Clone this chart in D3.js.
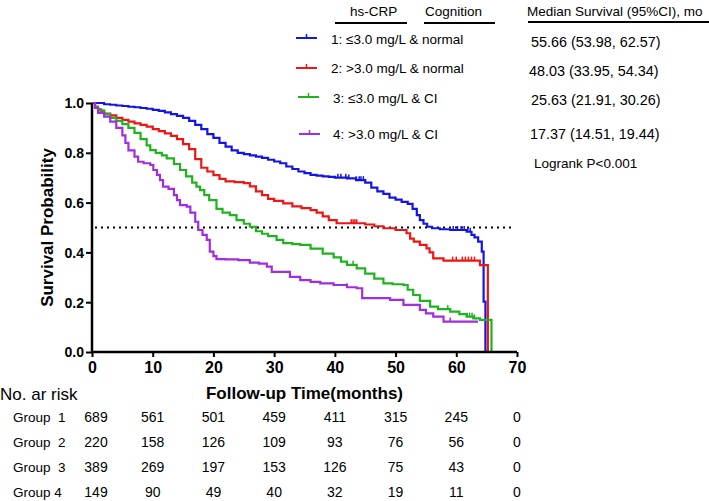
<!DOCTYPE html>
<html><head><meta charset="utf-8">
<script src="https://cdn.jsdelivr.net/npm/d3@7"></script>
<style>
html,body{margin:0;padding:0;background:#fff;}
svg{display:block;font-family:"Liberation Sans",Arial,sans-serif;}
</style></head>
<body><svg id="c" width="709" height="501"></svg>
<script>
// ---------- data ----------
const groupNames = ["1: ≤3.0 mg/L & normal","2: >3.0 mg/L & normal","3: ≤3.0 mg/L & CI","4: >3.0 mg/L & CI"];
const groupColors = ["#1414e6","#ee1515","#1eb41e","#a02ee0"];
const medianText = ["55.66 (53.98, 62.57)","48.03 (33.95, 54.34)","25.63 (21.91, 30.26)","17.37 (14.51, 19.44)"];
const logrankText = "Logrank P<0.001";
const xTicks = [0,10,20,30,40,50,60,70];
const yTicks = [0,0.2,0.4,0.6,0.8,1.0];
const riskGroups = ["Group  1","Group  2","Group  3","Group 4"];
const risk1 = [689,561,501,459,411,315,245,0];
const risk2 = [220,158,126,109,93,76,56,0];
const risk3 = [389,269,197,153,126,75,43,0];
const risk4 = [149,90,49,40,32,19,11,0];

const surv1 = [[0,1],[1,1],[2,0.995],[3,0.993],[4,0.99],[5,0.988],[6,0.985],[7,0.983],[8,0.98],[9,0.977],[10,0.972],[11,0.968],[12,0.962],[13,0.955],[14,0.948],[15,0.94],[16,0.928],[17,0.912],[18,0.895],[19,0.875],[20,0.86],[21,0.84],[22,0.825],[23,0.81],[24,0.8],[25,0.795],[26,0.79],[27,0.785],[28,0.78],[29,0.772],[30,0.765],[31,0.758],[32,0.745],[33,0.735],[34,0.725],[35,0.718],[36,0.711],[37,0.708],[38,0.705],[39,0.703],[40,0.7],[42,0.697],[43.5,0.69],[45,0.68],[46,0.66],[47,0.645],[48,0.635],[49,0.62],[50,0.612],[51,0.603],[52,0.595],[52.8,0.575],[53.5,0.55],[54,0.53],[54.6,0.515],[55.2,0.503],[56,0.497],[57.3,0.493],[59,0.49],[61.7,0.483],[62.5,0.47],[63,0.46],[63.6,0.443],[64.2,0.403],[64.5,0.202],[64.8,0]];
const surv2 = [[0,1],[0.5,0.985],[1,0.975],[1.5,0.965],[2,0.957],[3,0.95],[4,0.94],[5,0.932],[6,0.925],[7,0.918],[8,0.912],[9,0.905],[10,0.895],[11,0.887],[12,0.878],[13,0.868],[14,0.855],[15,0.835],[16,0.815],[17,0.775],[18,0.74],[19,0.725],[20,0.71],[21,0.695],[22,0.685],[23.5,0.682],[25,0.678],[26,0.665],[27,0.645],[28,0.63],[29,0.615],[30,0.607],[31.5,0.597],[33,0.585],[34.5,0.578],[36,0.57],[37,0.56],[38,0.545],[39,0.53],[40.3,0.517],[44,0.517],[45,0.512],[46.5,0.505],[48,0.497],[50,0.49],[51.8,0.477],[52.4,0.455],[53,0.443],[54,0.43],[55.1,0.416],[55.6,0.4],[56.2,0.376],[57.9,0.367],[63.9,0.349],[65.2,0]];
const surv3 = [[0,1],[0.5,0.985],[1,0.97],[2,0.955],[3,0.94],[4,0.928],[5,0.915],[6,0.9],[7,0.88],[8,0.855],[9,0.83],[9.6,0.811],[10.5,0.8],[11.5,0.79],[12.3,0.778],[13.5,0.755],[14.5,0.731],[15.5,0.705],[16.5,0.68],[17.2,0.664],[17.8,0.65],[18.5,0.63],[19.3,0.61],[20.5,0.575],[21.5,0.56],[22.7,0.55],[23.8,0.53],[25,0.515],[26,0.503],[27,0.485],[28,0.475],[29,0.465],[30.4,0.45],[31.5,0.437],[33,0.433],[34.3,0.43],[36,0.415],[38,0.395],[39.8,0.38],[41,0.363],[42,0.35],[43.6,0.336],[45,0.315],[46.5,0.295],[48,0.276],[49.5,0.272],[51.3,0.269],[52,0.25],[52.9,0.229],[54,0.205],[55.7,0.182],[57,0.172],[59,0.162],[60.5,0.152],[61.7,0.142],[62.8,0.135],[63.9,0.129],[65.8,0]];
const surv4 = [[0,1],[0.5,0.98],[1,0.96],[2,0.945],[3,0.925],[4,0.9],[5,0.87],[5.5,0.84],[6,0.81],[7,0.785],[7.6,0.764],[8.5,0.758],[9.6,0.751],[10.1,0.731],[10.7,0.711],[11.2,0.69],[11.7,0.664],[12.6,0.655],[13.5,0.63],[14,0.61],[14.5,0.59],[15.6,0.584],[16.2,0.56],[17,0.523],[17.5,0.49],[18.2,0.47],[18.9,0.45],[19.4,0.403],[20,0.385],[20.5,0.373],[22,0.372],[24.1,0.369],[26,0.359],[27.5,0.355],[28.8,0.343],[29.6,0.322],[31.5,0.322],[32.6,0.302],[34.3,0.289],[36,0.282],[37.6,0.276],[39.8,0.269],[42,0.26],[43.6,0.256],[44.5,0.216],[49.1,0.209],[51.3,0.189],[54,0.169],[55,0.155],[56.2,0.142],[57.9,0.122],[63.6,0.122]];
const cens1 = [40.5,41,41.8,42.3,43.5,44,44.3,44.7,59.5,60.2,60.8,61.3,61.9,62.3];
const cens2 = [42.7,43,43.3,43.6,59.4,60,61,61.5,62,62.5,63];
const cens3 = [43,58.6,61.8,62.2,62.6,63];
const cens4 = [42,59];

// ---------- layout ----------
const svg = d3.select("#c");
const x = d3.scaleLinear().domain([0,70]).range([92,517]);
const y = d3.scaleLinear().domain([0,1]).range([352,103]);
const bold = "bold";

// reference line at 0.5
svg.append("line").attr("x1",x(0)+3).attr("x2",x(70)-2).attr("y1",y(0.5)).attr("y2",y(0.5))
  .attr("stroke","#000").attr("stroke-width",2).attr("stroke-dasharray","2,4");

const survs = [surv1,surv2,surv3,surv4];
const cens = [cens1,cens2,cens3,cens4];
const line = d3.line().x(d=>x(d[0])).y(d=>y(d[1])).curve(d3.curveStepAfter);
function survAt(s,t){let v=1;for(const p of s){if(p[0]<=t)v=p[1];}return v;}
survs.forEach((s,i)=>{
  svg.append("path").attr("d",line(s)).attr("fill","none").attr("stroke",groupColors[i]).attr("stroke-width",2.2);
  svg.selectAll(null).data(cens[i]).enter().append("line")
    .attr("x1",t=>x(t)).attr("x2",t=>x(t)).attr("y1",t=>y(survAt(s,t))).attr("y2",t=>y(survAt(s,t))-4)
    .attr("stroke",groupColors[i]).attr("stroke-width",1.5);
});

// axes
const yAxis = svg.append("g").attr("transform",`translate(${x(0)},0)`)
  .call(d3.axisLeft(y).tickValues(yTicks).tickFormat(d3.format(".1f")).tickSize(6).tickSizeOuter(0));
const xAxis = svg.append("g").attr("transform",`translate(0,${y(0)})`)
  .call(d3.axisBottom(x).tickValues(xTicks).tickSize(5).tickSizeOuter(0));
[yAxis,xAxis].forEach(g=>{
  g.select(".domain").attr("stroke","#000").attr("stroke-width",2.5);
  g.selectAll(".tick line").attr("stroke","#000").attr("stroke-width",2);
});
yAxis.selectAll("text").attr("font-size",14).attr("font-weight",bold).attr("fill","#000").attr("x",-8).attr("dy","0.35em");
xAxis.selectAll("text").attr("font-size",16).attr("font-weight",bold).attr("fill","#000").attr("y",10).attr("dy","0.71em");
yAxis.select(".domain").attr("d",`M0,${y(1)}V${y(0)+1}`);
xAxis.select(".domain").attr("d",`M${x(0)-1},0H${x(70)}`);

svg.append("text").attr("transform",`translate(53,${(y(0)+y(1))/2}) rotate(-90)`)
  .attr("text-anchor","middle").attr("font-size",17).attr("font-weight",bold).text("Survival Probability");
svg.append("text").attr("x",(x(0)+x(70))/2).attr("y",399).attr("text-anchor","middle")
  .attr("font-size",17).attr("font-weight",bold).text("Follow-up Time(months)");

// risk table
svg.append("text").attr("x",0).attr("y",400).attr("font-size",17).text("No. ar risk");
const risks = [risk1,risk2,risk3,risk4];
const rowY = [422,447,472,497];
risks.forEach((r,i)=>{
  svg.append("text").attr("x",13).attr("y",rowY[i]).attr("font-size",13.5).style("white-space","pre").text(riskGroups[i]);
  svg.selectAll(null).data(r).enter().append("text")
    .attr("x",(d,j)=>x(xTicks[j])+(j===0?4:0)).attr("y",rowY[i]).attr("text-anchor","middle")
    .attr("font-size",14).text(d=>d);
});

// legend header
svg.append("text").attr("x",350).attr("y",16).attr("font-size",13.5).text("hs-CRP");
svg.append("text").attr("x",425).attr("y",16).attr("font-size",13.5).text("Cognition");
svg.append("text").attr("x",527).attr("y",16).attr("font-size",13.5).text("Median Survival (95%CI), mo");
[[335,407,23],[424,495,23],[528,709,22]].forEach(l=>{
  svg.append("line").attr("x1",l[0]).attr("x2",l[1]).attr("y1",l[2]).attr("y2",l[2]).attr("stroke","#000").attr("stroke-width",2);
});
const legLineY = [38,68,97,134];
const legLineX = [[296,317],[296,317],[298,319],[299,320]];
const legTextX = [331,331,333,333];
const legTextY = [44,73,103,139];
const medX = [531,529,531,530];
const medY = [47,76,105,139];
groupNames.forEach((n,i)=>{
  const [a,b] = legLineX[i];
  svg.append("line").attr("x1",a).attr("x2",b).attr("y1",legLineY[i]).attr("y2",legLineY[i]).attr("stroke",groupColors[i]).attr("stroke-width",2);
  svg.append("line").attr("x1",(a+b)/2).attr("x2",(a+b)/2).attr("y1",legLineY[i]).attr("y2",legLineY[i]-4).attr("stroke",groupColors[i]).attr("stroke-width",1.5);
  svg.append("text").attr("x",legTextX[i]).attr("y",legTextY[i]).attr("font-size",13.5).text(n);
  svg.append("text").attr("x",medX[i]).attr("y",medY[i]).attr("font-size",14.4).text(medianText[i]);
});
svg.append("text").attr("x",534).attr("y",168).attr("font-size",13.5).text(logrankText);
</script></body></html>
